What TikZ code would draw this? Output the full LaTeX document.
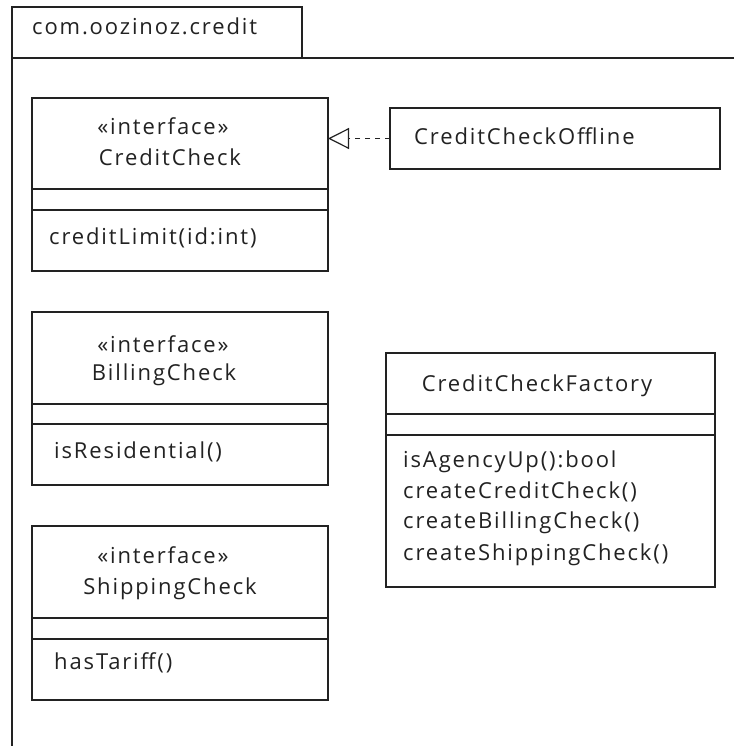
\documentclass[tikz,border=0pt]{standalone}
\usepackage{fontspec}
\setmainfont{Open Sans}[LetterSpace=8.5]
\usetikzlibrary{arrows.meta}
\definecolor{ink}{HTML}{222222}
\begin{document}
\begin{tikzpicture}[x=1pt,y=-1pt,
  umlbox/.style={draw=ink, line width=1.2pt, inner sep=0pt, outer sep=0pt, anchor=north west},
  rule/.style={draw=ink, line width=1.2pt},
  lbl/.style={anchor=base west, inner sep=0pt, text=ink, font=\fontsize{22}{31}\selectfont},
  clbl/.style={anchor=base, inner sep=0pt, text=ink, font=\fontsize{22}{31}\selectfont},
  realize/.style={draw=ink, line width=1.2pt, dash pattern=on 5pt off 5pt,
    -{Triangle[open, length=21pt, width=21pt, line width=1.2pt]}}
]
\useasboundingbox (0,0) rectangle (734,746);
\fill[white] (0,0) rectangle (734,746);

% package frame
\node[umlbox, minimum width=290, minimum height=51] (tab) at (12,7) {};
\coordinate (frameR) at (734,58);
\coordinate (frameB) at (12,746);
\draw[rule] (frameR) -- (tab.south west) -- (frameB);
\node[lbl] (pkg) at (32,35) {com.oozinoz.credit};

% CreditCheck
\node[umlbox, minimum width=296, minimum height=173] (cc) at (32,98) {};
\draw[rule] (32,189) -- (328,189);
\draw[rule] (32,210) -- (328,210);
\node[clbl] (ccst) at (163,135) {«interface»};
\node[clbl] (ccname) at (170,165) {CreditCheck};
\node[lbl] (ccm) at (49,244) {creditLimit(id:int)};

% BillingCheck
\node[umlbox, minimum width=296, minimum height=173] (bc) at (32,312) {};
\draw[rule] (32,404) -- (328,404);
\draw[rule] (32,424) -- (328,424);
\node[clbl] (bcst) at (163,352) {«interface»};
\node[clbl] (bcname) at (164,380) {BillingCheck};
\node[lbl] (bcm) at (54,458) {isResidential()};

% ShippingCheck
\node[umlbox, minimum width=296, minimum height=174] (sc) at (32,526) {};
\draw[rule] (32,618) -- (328,618);
\draw[rule] (32,639) -- (328,639);
\node[clbl] (scst) at (163,563) {«interface»};
\node[clbl] (scname) at (170,594) {ShippingCheck};
\node[lbl] (scm) at (54,669) {hasTariff()};

% CreditCheckOffline
\node[umlbox, minimum width=330, minimum height=61] (off) at (390,108) {};
\node[lbl] (offname) at (414,145) {CreditCheckOffline};

% CreditCheckFactory
\node[umlbox, minimum width=329, minimum height=234] (fac) at (386,353) {};
\draw[rule] (386,414) -- (715,414);
\draw[rule] (386,435) -- (715,435);
\node[clbl] (facname) at (537,391) {CreditCheckFactory};
\node[lbl] (f1) at (403,467) {isAgencyUp():bool};
\node[lbl] (f2) at (403,498) {createCreditCheck()};
\node[lbl] (f3) at (403,528) {createBillingCheck()};
\node[lbl] (f4) at (403,560) {createShippingCheck()};

% realization
\draw[realize] (off.west) -- (cc.east |- off.west);
\end{tikzpicture}
\end{document}
